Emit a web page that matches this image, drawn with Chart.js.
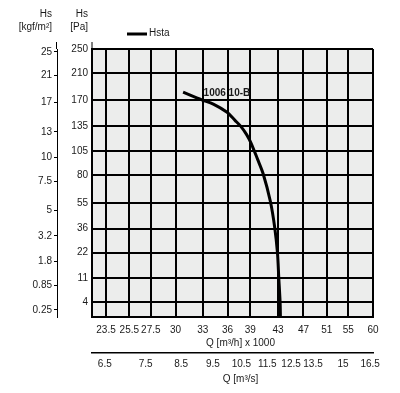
<!DOCTYPE html>
<html>
<head>
<meta charset="utf-8">
<script src="https://cdn.jsdelivr.net/npm/chart.js@4.4.1/dist/chart.umd.min.js"></script>
<style>
  html, body { margin: 0; padding: 0; background: #fff; }
  #wrap { width: 400px; height: 393px; }
</style>
</head>
<body>
<div id="wrap"><canvas id="grafik" width="400" height="393"></canvas></div>
<script>
// tick labels
const Q_TICKS   = [23.5, 25.5, 27.5, 30, 33, 36, 39, 43, 47, 51, 55, 60];      // m3/h x 1000
const QS_TICKS  = [6.5, 7.5, 8.5, 9.5, 10.5, 11.5, 12.5, 13.5, 15, 16.5];    // m3/s
const PA_TICKS  = [4, 11, 22, 36, 55, 80, 105, 135, 170, 210, 250];          // Pa
const KGF_TICKS = [0.25, 0.85, 1.8, 3.2, 5, 7.5, 10, 13, 17, 21, 25];       // kgf/m2

// curve Hsta, fan 1006 10-B
const curveQ  = [30.8, 32.9, 34.25, 35.9, 36.96, 37.75, 38.5, 39.1, 40.0, 40.8, 41.85, 42.5, 42.9, 43.1, 43.3, 43.35];
const curvePa = [181, 170, 164, 153, 142, 134, 124, 114, 96, 81, 56, 36.5, 22, 11, 4, 1.4];
const curveName = '1006 10-B';

// axis range
const Q_MIN = 22.37, Q_MAX = 60;
const PA_MIN = 1.39, PA_MAX = 250;
const KGF_PER_PA = 1 / 9.81;
const M3S_PER_Q = 1000 / 3600;

const FONT = "'Liberation Sans', Arial, sans-serif";
Chart.defaults.font.family = FONT;
Chart.defaults.font.size = 10;
Chart.defaults.color = '#1a1a1a';

// sumbu y memakai skala akar kuadrat
const sq = v => Math.sqrt(v);

const plotTambahan = {
    id: 'plotTambahan',
    beforeDraw(chart) {
        const { ctx, chartArea: a } = chart;
        ctx.save();
        ctx.fillStyle = '#ecedec';
        ctx.fillRect(a.left, a.top, a.right - a.left, a.bottom - a.top);
        ctx.restore();
    },
    afterDraw(chart) {
        const { ctx, chartArea: a, scales } = chart;
        ctx.save();

        // garis sumbu kiri sedikit di atas area plot
        ctx.strokeStyle = '#000';
        ctx.lineWidth = 1;
        [scales.y2.right - 0.5, a.left].forEach(x => {
            ctx.beginPath();
            ctx.moveTo(x, a.top - 7);
            ctx.lineTo(x, a.top);
            ctx.stroke();
        });

        ctx.fillStyle = '#1a1a1a';
        ctx.font = '10px ' + FONT;
        ctx.textBaseline = 'middle';

        // judul sumbu x (sedikit ke kanan dari tengah)
        ctx.textAlign = 'center';
        const cx = (a.left + a.right) / 2 + 8;
        ctx.fillText('Q [m³/h] x 1000', cx, 343);
        ctx.fillText('Q [m³/s]', cx, 379);

        // judul sumbu y
        ctx.textAlign = 'right';
        ctx.fillText('Hs', scales.y2.right - 5, 14);
        ctx.fillText('[kgf/m²]', scales.y2.right - 5, 27);
        ctx.fillText('Hs', scales.y.right - 4, 14);
        ctx.fillText('[Pa]', scales.y.right - 4, 27);

        // legenda
        const ds = chart.data.datasets[0];
        ctx.strokeStyle = ds.borderColor;
        ctx.lineWidth = 3;
        ctx.beginPath();
        ctx.moveTo(127, 34);
        ctx.lineTo(147, 34);
        ctx.stroke();
        ctx.textAlign = 'left';
        ctx.fillText(ds.label, 149, 33);

        // nama kurva
        ctx.font = 'bold 10px ' + FONT;
        ctx.fillText(curveName, scales.x.getPixelForValue(33.1), scales.y.getPixelForValue(sq(180)));
        ctx.restore();
    }
};

const ctx = document.getElementById('grafik').getContext('2d');

new Chart(ctx, {
    type: 'line',
    data: {
        datasets: [{
            label: 'Hsta',
            data: curveQ.map((q, i) => ({ x: q, y: sq(curvePa[i]) })),
            borderColor: '#000',
            borderWidth: 3,
            pointRadius: 0,
            tension: 0.3,
            fill: false,
            xAxisID: 'x',
            yAxisID: 'y'
        }]
    },
    options: {
        responsive: false,
        animation: false,
        layout: { padding: { top: 49, right: 27, left: 0, bottom: 0 } },
        plugins: {
            legend: { display: false },
            tooltip: { enabled: false }
        },
        scales: {
            x: {
                type: 'logarithmic',
                position: 'bottom',
                weight: 0,
                min: Q_MIN,
                max: Q_MAX,
                afterBuildTicks: s => { s.ticks = Q_TICKS.map(v => ({ value: v })); },
                afterFit: s => { s.height = 36; },
                ticks: {
                    autoSkip: false,
                    maxRotation: 0,
                    padding: 7,
                    callback: (v, i) => String(Q_TICKS[i])
                },
                grid: { color: '#000', lineWidth: 2, drawTicks: false },
                border: { color: '#000', width: 2 }
            },
            x2: {
                type: 'logarithmic',
                position: 'bottom',
                weight: 1,
                min: Q_MIN * M3S_PER_Q,
                max: Q_MAX * M3S_PER_Q,
                afterBuildTicks: s => { s.ticks = QS_TICKS.map(v => ({ value: v })); },
                afterFit: s => { s.height = 40; },
                ticks: {
                    autoSkip: false,
                    maxRotation: 0,
                    padding: 5,
                    callback: (v, i) => String(QS_TICKS[i])
                },
                grid: { display: true, drawOnChartArea: false, drawTicks: false },
                border: { color: '#000', width: 1.5 }
            },
            y: {
                type: 'linear',
                position: 'left',
                weight: 0,
                min: sq(PA_MIN),
                max: sq(PA_MAX),
                afterBuildTicks: s => { s.ticks = PA_TICKS.map(v => ({ value: sq(v) })); },
                afterFit: s => { s.width = 35; },
                ticks: {
                    autoSkip: false,
                    padding: 4,
                    callback: (v, i) => String(PA_TICKS[i])
                },
                grid: { color: '#000', lineWidth: 2, drawTicks: false },
                border: { color: '#000', width: 2 }
            },
            y2: {
                type: 'linear',
                position: 'left',
                weight: 1,
                min: sq(PA_MIN * KGF_PER_PA),
                max: sq(PA_MAX * KGF_PER_PA),
                afterBuildTicks: s => { s.ticks = KGF_TICKS.map(v => ({ value: sq(v) })); },
                afterFit: s => { s.width = 57; },
                ticks: {
                    autoSkip: false,
                    padding: 2,
                    callback: (v, i) => String(KGF_TICKS[i])
                },
                grid: { color: '#000', drawOnChartArea: false, drawTicks: true, tickLength: 3 },
                border: { color: '#000', width: 1 }
            }
        }
    },
    plugins: [plotTambahan]
});
</script>
</body>
</html>
